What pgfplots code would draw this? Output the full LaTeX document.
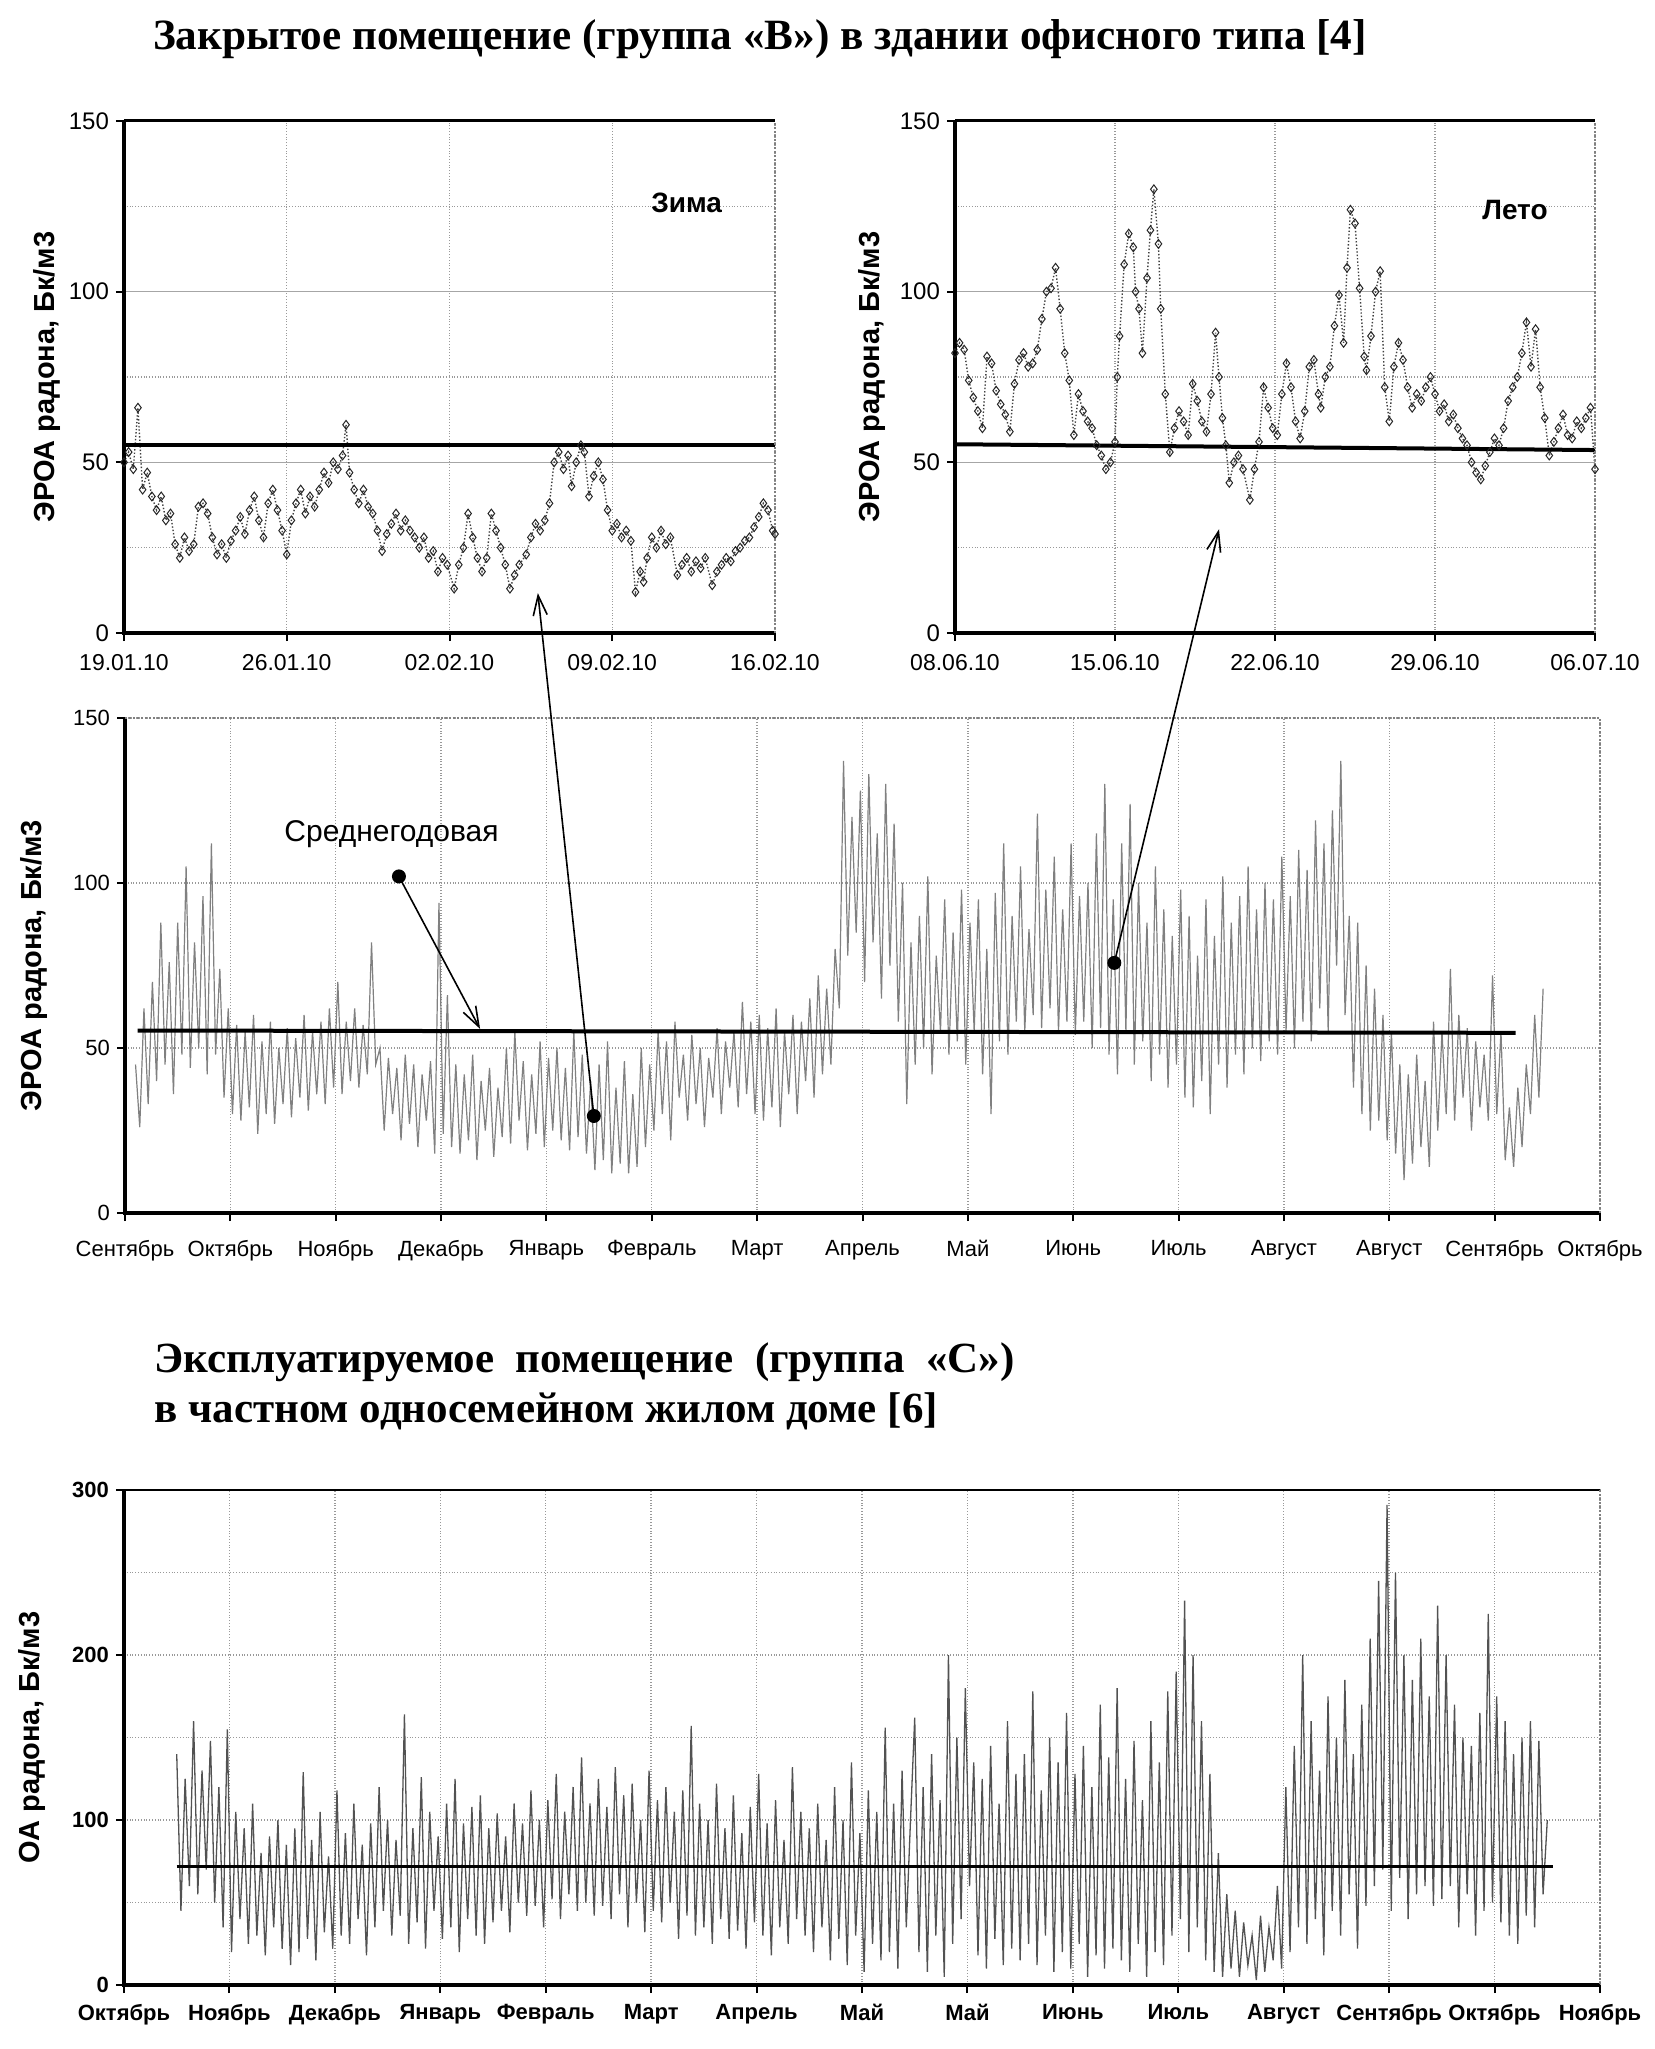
\documentclass[border=0pt]{standalone}
\usepackage{fontspec}
\setmainfont{Liberation Serif}
\newfontfamily\arial{Liberation Sans}
\usepackage{pgfplots}
\pgfplotsset{compat=1.18}
\usetikzlibrary{arrows.meta}

\pgfplotsset{
  base/.style={
    scale only axis, anchor=south west, clip=false,
    axis line style={draw=none},
    tick pos=left, tick align=outside,
    major tick length=4pt, minor tick length=0pt,
    tick style={black, line width=1pt},
    /pgf/number format/assume math mode=true,
    ymin=0,
  },
  topax/.style={
    base, width=325.5pt, height=256pt, ymax=150,
    xmin=0, xmax=28, xtick={0,7,14,21,28},
    ytick={0,50,100,150}, minor ytick={25,75,125},
    xmajorgrids, ymajorgrids, yminorgrids,
    major x grid style={gray!80, densely dotted, line width=0.7pt},
    major y grid style={gray!70, line width=0.6pt},
    minor y grid style={gray!80, densely dotted, line width=0.7pt},
    xticklabel style={font=\arial\fontsize{11.5}{13}\selectfont, yshift=-3pt},
    yticklabel style={font=\arial\fontsize{12}{14}\selectfont},
    ylabel style={font=\arial\bfseries\fontsize{14.5}{16}\selectfont, anchor=center},
  },
  pts/.style={densely dotted, gray!50!black, line width=0.7pt,
    mark=diamond, mark size=2.2pt,
    mark options={solid, draw=black!85, fill=white, line width=0.5pt}},
}

\begin{document}
\begin{tikzpicture}
\path[use as bounding box] (0,0) rectangle (827pt,-1024.5pt);

\node[font=\bfseries\fontsize{21.6}{25}\selectfont, inner sep=0pt] at (380pt,-19.5pt)
  {Закрытое помещение (группа «В») в здании офисного типа [4]};

% ---------------- Winter ----------------
\begin{axis}[topax, at={(62pt,-316.5pt)},
  xticklabels={19.01.10,26.01.10,02.02.10,09.02.10,16.02.10},
  ylabel={ЭРОА радона, Бк/м3},
  ylabel style={at={(axis description cs:-0.118,0.5)}}]
\addplot[pts] coordinates {
(0.0,50)(0.2,53)(0.4,48)(0.6,66)(0.8,42)(1.0,47)(1.2,40)(1.4,36)(1.6,40)(1.8,33)
(2.0,35)(2.2,26)(2.4,22)(2.6,28)(2.8,24)(3.0,26)(3.2,37)(3.4,38)(3.6,35)(3.8,28)
(4.0,23)(4.2,26)(4.4,22)(4.6,27)(4.8,30)(5.0,34)(5.2,29)(5.4,36)(5.6,40)(5.8,33)
(6.0,28)(6.2,38)(6.4,42)(6.6,36)(6.8,30)(7.0,23)(7.2,33)(7.4,38)(7.6,42)(7.8,35)
(8.0,40)(8.2,37)(8.4,42)(8.6,47)(8.8,44)(9.0,50)(9.2,48)(9.4,52)(9.55,61)(9.7,47)
(9.9,42)(10.1,38)(10.3,42)(10.5,37)(10.7,35)(10.9,30)(11.1,24)(11.3,29)(11.5,32)(11.7,35)
(11.9,30)(12.1,33)(12.3,30)(12.5,28)(12.7,25)(12.9,28)(13.1,22)(13.3,24)(13.5,18)(13.7,22)
(13.9,20)(14.2,13)(14.4,20)(14.6,25)(14.8,35)(15.0,28)(15.2,22)(15.4,18)(15.6,22)(15.8,35)
(16.0,30)(16.2,25)(16.4,20)(16.6,13)(16.8,17)(17.0,20)(17.3,23)(17.5,28)(17.7,32)(17.9,30)
(18.1,33)(18.3,38)(18.5,50)(18.7,53)(18.9,48)(19.1,52)(19.25,43)(19.45,50)(19.65,55)(19.8,53)
(20.0,40)(20.2,46)(20.4,50)(20.6,45)(20.8,36)(21.0,30)(21.2,32)(21.4,28)(21.6,30)(21.8,27)
(22.0,12)(22.2,18)(22.35,15)(22.5,22)(22.7,28)(22.9,25)(23.1,30)(23.3,26)(23.5,28)(23.8,17)
(24.0,20)(24.2,22)(24.4,18)(24.6,21)(24.8,19)(25.0,22)(25.3,14)(25.5,18)(25.7,20)(25.9,22)
(26.1,21)(26.3,24)(26.5,25)(26.7,27)(26.9,28)(27.1,31)(27.3,34)(27.5,38)(27.7,36)(27.9,30)(28.0,29)};
\addplot[black, line width=2pt] coordinates {(0,55) (28,55)};
\node[font=\arial\bfseries\fontsize{14}{16}\selectfont] at (axis cs:24.2,126) {Зима};
\coordinate (t1) at (axis cs:17.8,11.7);
\draw[line width=2pt] (rel axis cs:0,1) -- (rel axis cs:0,0) -- (rel axis cs:1,0);
\draw[line width=1.5pt] (rel axis cs:0,1) -- (rel axis cs:1,1);
\draw[gray, densely dotted, line width=1pt] (rel axis cs:1,0) -- (rel axis cs:1,1);
\end{axis}

% ---------------- Summer ----------------
\begin{axis}[topax, at={(477.5pt,-316.5pt)}, width=320pt,
  xticklabels={08.06.10,15.06.10,22.06.10,29.06.10,06.07.10},
  ylabel={ЭРОА радона, Бк/м3},
  ylabel style={at={(axis description cs:-0.13,0.5)}}]
\addplot[pts] coordinates {
(0.0,82)(0.2,85)(0.4,83)(0.6,74)(0.8,69)(1.0,65)(1.2,60)(1.4,81)(1.6,79)(1.8,71)
(2.0,67)(2.2,64)(2.4,59)(2.6,73)(2.8,80)(3.0,82)(3.2,78)(3.4,79)(3.6,83)(3.8,92)
(4.0,100)(4.2,101)(4.4,107)(4.6,95)(4.8,82)(5.0,74)(5.2,58)(5.4,70)(5.6,65)(5.8,62)
(6.0,60)(6.2,55)(6.4,52)(6.6,48)(6.8,50)(7.0,56)(7.1,75)(7.2,87)(7.4,108)(7.6,117)
(7.8,113)(7.9,100)(8.05,95)(8.2,82)(8.4,104)(8.55,118)(8.7,130)(8.9,114)(9.0,95)(9.2,70)
(9.4,53)(9.6,60)(9.8,65)(10.0,62)(10.2,58)(10.4,73)(10.6,68)(10.8,62)(11.0,59)(11.2,70)
(11.4,88)(11.55,75)(11.7,63)(11.85,55)(12.0,44)(12.2,50)(12.4,52)(12.6,48)(12.9,39)(13.1,48)
(13.3,56)(13.5,72)(13.7,66)(13.9,60)(14.1,58)(14.3,70)(14.5,79)(14.7,72)(14.9,62)(15.1,57)
(15.3,65)(15.5,78)(15.7,80)(15.9,70)(16.0,66)(16.2,75)(16.4,78)(16.6,90)(16.8,99)(17.0,85)
(17.15,107)(17.3,124)(17.5,120)(17.7,101)(17.9,81)(18.0,77)(18.2,87)(18.4,100)(18.6,106)(18.8,72)
(19.0,62)(19.2,78)(19.4,85)(19.6,80)(19.8,72)(20.0,66)(20.2,70)(20.4,68)(20.6,72)(20.8,75)
(21.0,70)(21.2,65)(21.4,67)(21.6,62)(21.8,64)(22.0,60)(22.2,57)(22.4,55)(22.6,50)(22.8,47)
(23.0,45)(23.2,49)(23.4,53)(23.6,57)(23.8,55)(24.0,60)(24.2,68)(24.4,72)(24.6,75)(24.8,82)
(25.0,91)(25.2,78)(25.4,89)(25.6,72)(25.8,63)(26.0,52)(26.2,56)(26.4,60)(26.6,64)(26.8,58)
(27.0,57)(27.2,62)(27.4,60)(27.6,63)(27.8,66)(28.0,48)};
\addplot[black, line width=2pt] coordinates {(0,55.3) (28,53.6)};
\node[font=\arial\bfseries\fontsize{14}{16}\selectfont] at (axis cs:24.5,124) {Лето};
\coordinate (t2) at (axis cs:11.55,30.4);
\draw[line width=2pt] (rel axis cs:0,1) -- (rel axis cs:0,0) -- (rel axis cs:1,0);
\draw[line width=1.5pt] (rel axis cs:0,1) -- (rel axis cs:1,1);
\draw[gray, densely dotted, line width=1pt] (rel axis cs:1,0) -- (rel axis cs:1,1);
\end{axis}

% ---------------- Year, group B ----------------
\begin{axis}[base, at={(62.5pt,-606.5pt)}, width=737.5pt, height=247.5pt,
  xmin=0, xmax=14, ymax=150,
  xtick={0,...,14},
  xticklabels={Сентябрь,Октябрь,Ноябрь,Декабрь,Январь,Февраль,Март,Апрель,Май,Июнь,Июль,Август,Август,Сентябрь,Октябрь},
  ytick={0,50,100,150},
  xmajorgrids, ymajorgrids,
  major grid style={gray!80, densely dotted, line width=0.7pt},
  ticklabel style={font=\arial\fontsize{11}{13}\selectfont},
  xticklabel style={yshift=-6pt},
  ylabel={ЭРОА радона, Бк/м3},
  ylabel style={font=\arial\bfseries\fontsize{14.5}{16}\selectfont, anchor=center, at={(axis description cs:-0.062,0.5)}}]
\addplot[black!50, line width=0.6pt] table[row sep=\\, header=false, x expr={0.1+0.04*\coordindex}, y index=0] {
45\\26\\62\\33\\70\\40\\88\\45\\76\\36\\88\\48\\105\\44\\82\\50\\96\\42\\112\\48\\74\\35\\62\\30\\57\\
28\\55\\32\\60\\24\\52\\30\\58\\27\\50\\33\\56\\29\\53\\35\\60\\31\\55\\36\\58\\33\\62\\38\\70\\36\\
58\\40\\62\\38\\57\\42\\82\\45\\50\\25\\47\\30\\44\\22\\48\\27\\45\\20\\42\\28\\46\\18\\94\\24\\66\\
20\\45\\18\\42\\22\\48\\16\\40\\25\\44\\17\\38\\23\\50\\21\\55\\28\\46\\19\\42\\24\\52\\20\\47\\25\\
50\\22\\44\\19\\55\\23\\48\\18\\40\\13\\45\\16\\52\\12\\38\\15\\46\\12\\36\\14\\50\\20\\45\\25\\55\\
30\\52\\22\\58\\35\\48\\28\\54\\33\\50\\26\\47\\35\\56\\30\\52\\38\\55\\32\\64\\36\\58\\30\\60\\28\\
56\\32\\62\\26\\55\\36\\60\\30\\58\\40\\65\\35\\72\\42\\68\\45\\80\\62\\137\\78\\120\\85\\128\\70\\133\\
82\\115\\65\\130\\75\\118\\58\\100\\33\\82\\45\\90\\50\\102\\42\\78\\55\\95\\48\\85\\52\\98\\45\\88\\55\\
95\\42\\80\\30\\97\\52\\112\\48\\90\\58\\105\\55\\86\\60\\121\\56\\98\\62\\108\\55\\92\\58\\112\\54\\96\\
58\\100\\50\\115\\56\\130\\48\\95\\42\\112\\55\\124\\45\\100\\52\\88\\40\\105\\48\\92\\38\\84\\45\\98\\35\\
90\\32\\78\\40\\95\\30\\84\\45\\102\\38\\88\\48\\96\\42\\105\\50\\92\\46\\100\\52\\95\\48\\108\\55\\96\\
50\\110\\58\\104\\52\\119\\62\\112\\55\\122\\75\\137\\60\\90\\38\\88\\30\\75\\25\\68\\28\\60\\22\\55\\18\\
45\\10\\42\\15\\48\\20\\40\\14\\58\\25\\55\\30\\74\\28\\60\\35\\56\\25\\52\\32\\48\\28\\72\\30\\55\\
16\\32\\14\\38\\20\\45\\30\\60\\35\\68\\
};
\addplot[black, line width=2pt] coordinates {(0.12,55.3) (13.2,54.6)};
\node[font=\arial\fontsize{15}{17}\selectfont] at (axis cs:2.53,114.8) {Среднегодовая};
\coordinate (d1) at (axis cs:2.6,102);
\coordinate (a1) at (axis cs:3.37,55.8);
\coordinate (d2) at (axis cs:4.45,29.4);
\coordinate (d3) at (axis cs:9.39,75.8);
\draw[line width=2pt] (rel axis cs:0,1) -- (rel axis cs:0,0) -- (rel axis cs:1,0);
\draw[gray, densely dotted, line width=1pt] (rel axis cs:0,1) -- (rel axis cs:1,1) -- (rel axis cs:1,0);
\end{axis}

\fill (d1) circle (3.5pt);
\draw[-{Straight Barb[length=10pt,width=7pt]}, line width=0.8pt] (d1) -- (a1);
\fill (d2) circle (3.5pt);
\draw[-{Straight Barb[length=10pt,width=7pt]}, line width=0.8pt] (d2) -- (t1);
\fill (d3) circle (3.5pt);
\draw[-{Straight Barb[length=10pt,width=7pt]}, line width=0.8pt] (d3) -- (t2);

\node[anchor=west, inner sep=0pt, font=\bfseries\fontsize{21.5}{25}\selectfont] at (77pt,-681pt)
  {Эксплуатируемое\ \ помещение\ \ (группа\ \ «С»)};
\node[anchor=west, inner sep=0pt, font=\bfseries\fontsize{21.5}{25}\selectfont] at (77pt,-705.5pt)
  {в частном односемейном жилом доме [6]};

% ---------------- Year, group C ----------------
\begin{axis}[base, at={(62pt,-992.5pt)}, width=738pt, height=247.5pt,
  xmin=0, xmax=14, ymax=300,
  xtick={0,...,14},
  xticklabels={Октябрь,Ноябрь,Декабрь,Январь,Февраль,Март,Апрель,Май,Май,Июнь,Июль,Август,Сентябрь,Октябрь,Ноябрь},
  ytick={0,100,200,300}, minor ytick={50,150,250},
  xmajorgrids, ymajorgrids, yminorgrids,
  major grid style={gray!80, densely dotted, line width=0.7pt},
  minor grid style={gray!80, densely dotted, line width=0.7pt},
  ticklabel style={font=\arial\bfseries\fontsize{11}{13}\selectfont},
  xticklabel style={yshift=-2pt},
  ylabel={ОА радона, Бк/м3},
  ylabel style={font=\arial\bfseries\fontsize{14.5}{16}\selectfont, anchor=center, at={(axis description cs:-0.062,0.5)}}]
\addplot[black!68, line width=0.65pt] table[row sep=\\, header=false, x expr={0.5+0.04*\coordindex}, y index=0] {
140\\45\\125\\60\\160\\55\\130\\70\\148\\50\\120\\35\\155\\20\\105\\40\\95\\25\\110\\30\\80\\18\\90\\35\\100\\
22\\85\\12\\95\\20\\129\\28\\88\\15\\105\\32\\78\\22\\118\\30\\92\\25\\110\\40\\85\\18\\98\\35\\120\\45\\
100\\30\\88\\42\\164\\25\\95\\38\\126\\22\\105\\45\\90\\28\\110\\35\\125\\20\\98\\40\\108\\30\\115\\25\\95\\
38\\104\\45\\90\\32\\110\\50\\98\\42\\118\\48\\100\\35\\112\\52\\128\\40\\105\\55\\120\\45\\138\\50\\110\\42\\
125\\48\\108\\40\\132\\55\\115\\35\\122\\50\\100\\32\\130\\45\\112\\38\\120\\50\\105\\28\\118\\42\\157\\30\\110\\
35\\100\\25\\122\\40\\95\\28\\115\\33\\92\\22\\108\\38\\128\\30\\98\\18\\112\\35\\88\\25\\132\\40\\105\\30\\
95\\20\\110\\35\\88\\15\\120\\28\\100\\12\\135\\30\\92\\8\\118\\25\\105\\15\\156\\20\\110\\10\\130\\35\\100\\
162\\20\\120\\8\\140\\30\\112\\5\\200\\25\\150\\40\\180\\60\\135\\18\\125\\10\\145\\28\\110\\12\\160\\22\\128\\
15\\140\\25\\178\\12\\118\\30\\150\\8\\135\\20\\165\\10\\128\\25\\145\\5\\120\\18\\170\\10\\138\\22\\180\\15\\
125\\8\\148\\25\\112\\5\\160\\20\\135\\12\\178\\30\\190\\40\\233\\20\\200\\35\\160\\15\\128\\8\\80\\5\\55\\
10\\45\\5\\38\\12\\30\\3\\42\\8\\35\\15\\60\\10\\120\\20\\145\\35\\200\\25\\160\\40\\130\\18\\175\\45\\
150\\30\\185\\55\\140\\22\\170\\48\\210\\60\\245\\70\\291\\45\\250\\65\\200\\40\\185\\55\\210\\60\\175\\48\\230\\
52\\200\\60\\170\\35\\150\\55\\145\\30\\165\\45\\225\\50\\175\\38\\160\\30\\140\\25\\150\\42\\160\\35\\148\\55\\
100\\
};
\addplot[black, line width=1.5pt] coordinates {(0.5,72) (13.55,72)};
\draw[line width=2pt] (rel axis cs:0,1) -- (rel axis cs:0,0) -- (rel axis cs:1,0);
\draw[line width=1.2pt] (rel axis cs:0,1) -- (rel axis cs:1,1);
\draw[gray, densely dotted, line width=1pt] (rel axis cs:1,1) -- (rel axis cs:1,0);
\end{axis}
\end{tikzpicture}
\end{document}
